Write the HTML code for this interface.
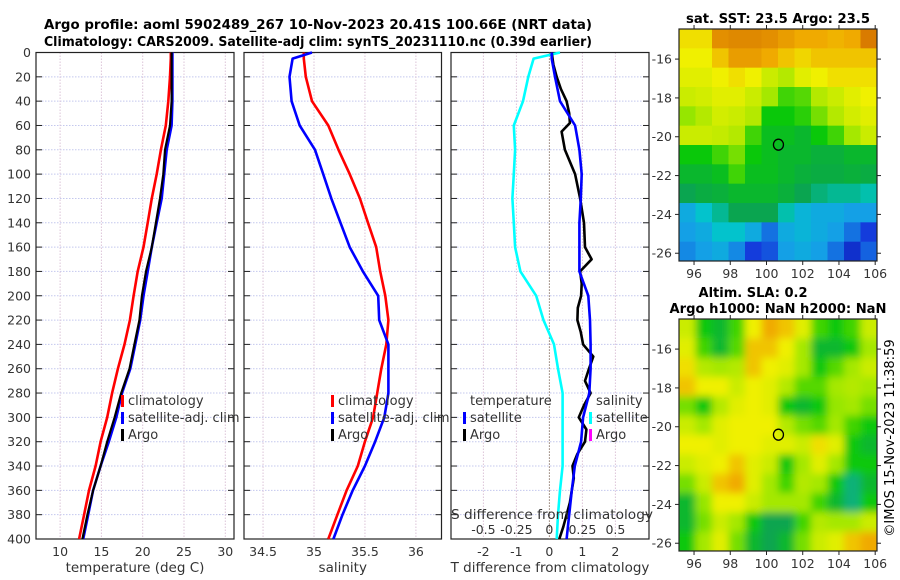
<!DOCTYPE html>
<html><head><meta charset="utf-8"><style>
html,body{margin:0;padding:0;background:#fff;}
svg{display:block;font-family:"DejaVu Sans","Liberation Sans",sans-serif;}
</style></head><body>
<svg id="fig" width="900" height="580" viewBox="0 0 900 580" xmlns="http://www.w3.org/2000/svg">
<text x="318" y="29" text-anchor="middle" font-size="13.5" font-weight="bold" textLength="548" lengthAdjust="spacingAndGlyphs">Argo profile: aoml 5902489_267 10-Nov-2023 20.41S 100.66E (NRT data)</text>
<text x="318" y="46" text-anchor="middle" font-size="13.5" font-weight="bold" textLength="548" lengthAdjust="spacingAndGlyphs">Climatology: CARS2009. Satellite-adj clim: synTS_20231110.nc (0.39d earlier)</text>
<text x="778" y="23" text-anchor="middle" font-size="13.5" font-weight="bold" textLength="184" lengthAdjust="spacingAndGlyphs">sat. SST: 23.5 Argo: 23.5</text>
<text x="753" y="297" text-anchor="middle" font-size="13.5" font-weight="bold" textLength="109" lengthAdjust="spacingAndGlyphs">Altim. SLA: 0.2</text>
<text x="778" y="313" text-anchor="middle" font-size="13.5" font-weight="bold" textLength="217" lengthAdjust="spacingAndGlyphs">Argo h1000: NaN h2000: NaN</text>
<text transform="translate(894,438) rotate(-90)" text-anchor="middle" font-size="13">©IMOS 15-Nov-2023 11:38:59</text>
</svg>
<script>
// ---------- data ----------
const depths = [0,5,20,40,60,80,100,120,140,160,180,200,220,240,260,280,300,320,340,360,380,400];
const tempClim = [23.4,23.4,23.3,23.1,22.8,22.2,21.7,21.1,20.6,20.1,19.4,18.9,18.45,17.8,17.0,16.3,15.7,14.9,14.3,13.5,12.9,12.3];
const tempSat = [23.6,23.6,23.6,23.6,23.5,22.9,22.6,22.3,21.7,21.1,20.6,20.1,19.7,19.1,18.5,17.5,16.8,15.9,14.9,14.0,13.4,12.8];
const tempArgo = [23.5,23.5,23.5,23.5,23.3,22.7,22.5,22.1,21.6,21.1,20.4,19.9,19.6,19.0,18.4,17.4,16.6,15.7,14.9,14.0,13.3,12.7];
const salClim = [34.9,34.9,34.92,34.98,35.14,35.24,35.35,35.45,35.53,35.61,35.65,35.70,35.73,35.71,35.66,35.62,35.58,35.50,35.43,35.32,35.23,35.14];
const salSat = [34.98,34.79,34.76,34.78,34.86,35.01,35.09,35.17,35.26,35.35,35.48,35.63,35.64,35.73,35.73,35.73,35.69,35.60,35.50,35.38,35.28,35.19];
const tDiffSat = [0.07,0.07,0.17,0.32,0.78,0.91,0.98,0.95,0.91,0.91,0.91,1.18,1.23,1.25,1.25,1.21,1.02,0.96,0.77,0.68,0.60,0.52];
const sDiffSat = [0.08,-0.12,-0.16,-0.2,-0.27,-0.26,-0.27,-0.28,-0.27,-0.26,-0.22,-0.1,-0.045,0.035,0.065,0.1,0.1,0.1,0.1,0.08,0.065,0.055];
const argoDiffDepths = [0,10,20,30,40,50,58,65,80,100,120,140,160,170,180,190,200,210,220,230,240,250,260,270,280,290,300,310,320,330,340,350,360,370,380,390,400];
const tDiffArgo = [0.07,0.12,0.22,0.35,0.52,0.6,0.62,0.37,0.47,0.78,0.93,1.05,1.08,1.28,0.93,0.98,0.96,0.86,0.85,0.95,1.02,1.33,1.2,1.08,1.25,1.05,0.89,1.12,1.08,0.85,0.7,0.74,0.68,0.62,0.52,0.42,0.30];
const depthTicks = [0,20,40,60,80,100,120,140,160,180,200,220,240,260,280,300,320,340,360,380,400];
const tempTicks = [10,15,20,25,30];
const salTicks = [34.5,35,35.5,36];
const salTickLabels = ["34.5","35","35.5","36"];
const tdTicks = [-2,-1,0,1,2];
const sdTicks = [-0.5,-0.25,0,0.25,0.5];
const sdTickLabels = ["-0.5","-0.25","0","0.25","0.5"];
const lonTicks = [96,98,100,102,104,106];
const latTicks = [-16,-18,-20,-22,-24,-26];
const argoLon = 100.66, argoLat = -20.41;
const sstGrid = [
[0.82,0.82,0.92,0.93,0.93,0.92,0.9,0.88,0.88,0.87,0.88,0.95],
[0.8,0.8,0.85,0.9,0.9,0.88,0.85,0.83,0.85,0.85,0.85,0.85],
[0.78,0.78,0.8,0.82,0.8,0.75,0.72,0.78,0.8,0.82,0.82,0.82],
[0.75,0.76,0.78,0.78,0.75,0.7,0.6,0.62,0.72,0.75,0.78,0.8],
[0.68,0.72,0.76,0.75,0.72,0.55,0.55,0.58,0.65,0.72,0.76,0.78],
[0.75,0.75,0.74,0.72,0.6,0.52,0.52,0.5,0.55,0.6,0.7,0.75],
[0.55,0.55,0.6,0.65,0.55,0.52,0.5,0.5,0.48,0.48,0.5,0.5],
[0.5,0.5,0.52,0.6,0.52,0.52,0.5,0.48,0.47,0.47,0.48,0.47],
[0.45,0.47,0.48,0.5,0.5,0.5,0.48,0.45,0.42,0.4,0.4,0.38],
[0.3,0.35,0.4,0.45,0.45,0.45,0.38,0.32,0.3,0.3,0.28,0.28],
[0.28,0.3,0.35,0.35,0.3,0.22,0.3,0.32,0.3,0.28,0.22,0.15],
[0.25,0.28,0.3,0.25,0.15,0.18,0.28,0.3,0.28,0.22,0.12,0.2]];
const slaGrid = [
[0.75,0.55,0.5,0.6,0.8,0.88,0.85,0.78,0.6,0.55,0.6,0.75],
[0.78,0.6,0.5,0.62,0.85,0.85,0.8,0.7,0.5,0.5,0.55,0.7],
[0.82,0.72,0.7,0.72,0.85,0.8,0.78,0.7,0.55,0.62,0.7,0.75],
[0.85,0.8,0.8,0.75,0.8,0.78,0.72,0.62,0.62,0.7,0.72,0.7],
[0.65,0.55,0.72,0.78,0.8,0.78,0.55,0.5,0.55,0.68,0.7,0.65],
[0.75,0.7,0.78,0.8,0.8,0.8,0.72,0.65,0.62,0.7,0.6,0.55],
[0.8,0.8,0.78,0.8,0.8,0.78,0.78,0.75,0.82,0.78,0.55,0.5],
[0.75,0.78,0.8,0.85,0.78,0.75,0.55,0.7,0.78,0.7,0.55,0.55],
[0.65,0.75,0.85,0.88,0.78,0.7,0.6,0.72,0.7,0.55,0.42,0.5],
[0.5,0.68,0.8,0.8,0.75,0.7,0.7,0.7,0.6,0.5,0.42,0.55],
[0.5,0.65,0.75,0.7,0.55,0.45,0.45,0.6,0.72,0.7,0.7,0.75],
[0.55,0.7,0.78,0.65,0.5,0.45,0.5,0.65,0.75,0.78,0.85,0.88]];

// ---------- helpers ----------
const NS = "http://www.w3.org/2000/svg";
const svg = document.getElementById('fig');
function mk(tag, attrs, parent){ const e=document.createElementNS(NS,tag); for(const k in attrs) e.setAttribute(k,attrs[k]); (parent||svg).appendChild(e); return e; }
const yTop=52.5, yBot=539;
const yD = d => yTop + d*(yBot-yTop)/400;
const xT = t => 142.7 + (t-20)*8.26;
const xS = s => 314 + (s-35)*101.9;
const xTD = t => 549.4 + t*33;
const xSD = s => 549.4 + s*132;

function panel(name, x0, x1, xTicks, xLab, xf, title){
  const g = mk('g',{});
  
  
  depthTicks.forEach(d=>{ const l=mk('line',{x1:x0,x2:x1,y1:yD(d),y2:yD(d),stroke:'#c4c8ee','stroke-width':1,'stroke-dasharray':'1.5,1.5'},g);
     
    mk('line',{x1:x0,x2:x0+6,y1:yD(d),y2:yD(d),stroke:'#222'},g); mk('line',{x1:x1-6,x2:x1,y1:yD(d),y2:yD(d),stroke:'#222'},g); });
  xTicks.forEach((v,i)=>{ const x=xf(v); const l=mk('line',{x1:x,x2:x,y1:yTop,y2:yBot,stroke:'#dcc4d8','stroke-width':1,'stroke-dasharray':'1.5,1.5'},g);
     
    const t=mk('text',{x:x,y:556,'text-anchor':'middle','font-size':12.5,fill:'#333'},g); t.textContent=xLab[i];
      });
  const r=mk('rect',{x:x0,y:yTop,width:x1-x0,height:yBot-yTop,fill:'none',stroke:'#222','stroke-width':1.2},g);
   
  const tt=mk('text',{x:(x0+x1)/2,y:572,'text-anchor':'middle','font-size':13.5,fill:'#333'},g); tt.textContent=title;
   
  return g;
}
function line(xs, ds, xf, color, name, w){
  const pts = xs.map((v,i)=>xf(v).toFixed(1)+','+yD(ds[i]).toFixed(1)).join(' ');
  const p=mk('polyline',{points:pts,fill:'none',stroke:color,'stroke-width':w||2.6,'stroke-linejoin':'round'});
  
  
}
function legend(x, y, entries){
  entries.forEach((e,i)=>{ const yy=y+i*17;
    if(e.c){ const m=mk('rect',{x:x,y:yy-10,width:3,height:12,fill:e.c});   }
    const t=mk('text',{x:x+7,y:yy,'font-size':13,fill:'#333'}); t.textContent=e.t;
      });
}

// depth tick labels
depthTicks.forEach(d=>{ const t=mk('text',{x:31,y:yD(d)+4.5,'text-anchor':'end','font-size':12.5,fill:'#333'}); t.textContent=d;
    });

panel('temperature-panel',36,234,tempTicks,tempTicks.map(String),xT,'temperature (deg C)');
panel('salinity-panel',244,441.5,salTicks,salTickLabels,xS,'salinity');
panel('difference-panel',451,649,tdTicks,tdTicks.map(String),xTD,'T difference from climatology');
// zero line
const z=mk('line',{x1:xTD(0),x2:xTD(0),y1:yTop,y2:yBot,stroke:'#6a5a3a','stroke-dasharray':'1,2','stroke-width':1});
 

line(tempClim,depths,xT,'#ff0000','temp-climatology-line');
line(tempSat,depths,xT,'#0000ff','temp-satellite-line');
line(tempArgo,depths,xT,'#000000','temp-argo-line',2.2);
line(salClim,depths,xS,'#ff0000','sal-climatology-line');
line(salSat,depths,xS,'#0000ff','sal-satellite-line');
line(sDiffSat,depths,xSD,'#00ffff','sdiff-satellite-line');
line(tDiffArgo,argoDiffDepths,xTD,'#000000','tdiff-argo-line',2.6);
line(tDiffSat,depths,xTD,'#0000ff','tdiff-satellite-line');

legend(121,405,[{c:'#ff0000',t:'climatology'},{c:'#0000ff',t:'satellite-adj. clim'},{c:'#000000',t:'Argo'}]);
legend(331,405,[{c:'#ff0000',t:'climatology'},{c:'#0000ff',t:'satellite-adj. clim'},{c:'#000000',t:'Argo'}]);
legend(463,405,[{c:null,t:'temperature'},{c:'#0000ff',t:'satellite'},{c:'#000000',t:'Argo'}]);
legend(589,405,[{c:null,t:'salinity'},{c:'#00ffff',t:'satellite'},{c:'#ff00ff',t:'Argo'}]);
// S axis inside panel
const st=mk('text',{x:451,y:519,'font-size':13.5,fill:'#333',textLength:202,lengthAdjust:'spacingAndGlyphs'}); st.textContent='S difference from climatology';
 
sdTicks.forEach((v,i)=>{ const t=mk('text',{x:xSD(v),y:534,'text-anchor':'middle','font-size':12.5,fill:'#333'}); t.textContent=sdTickLabels[i];
    });

// ---------- maps ----------
const stops=[[0,[0,0,140]],[0.15,[20,60,220]],[0.28,[20,160,230]],[0.36,[0,200,200]],[0.45,[10,165,80]],[0.55,[10,200,10]],[0.68,[150,230,0]],[0.8,[240,240,0]],[0.88,[240,170,0]],[1,[200,90,0]]];
function cmap(v){ for(let i=1;i<stops.length;i++){ if(v<=stops[i][0]){ const a=stops[i-1],b=stops[i],f=(v-a[0])/(b[0]-a[0]);
  return 'rgb('+a[1].map((c,k)=>Math.round(c+(b[1][k]-c)*f)).join(',')+')'; } } return 'rgb(200,90,0)'; }
const defs=mk('defs',{});
const flt=mk('filter',{id:'blur',x:'-5%',y:'-5%',width:'110%',height:'110%'},defs);
mk('feGaussianBlur',{stdDeviation:4},flt);
function map(name, grid, top, bottom, blur){
  const L=679,R=877, lon0=95.17, lon1=106.1, lat0=-14.45, lat1=-26.4;
  const xL = lo => L + (lo-lon0)*(R-L)/(lon1-lon0);
  const yL = la => top + (la-lat0)*(bottom-top)/(lat1-lat0);
  const cp=mk('clipPath',{id:'cp'+name},defs); mk('rect',{x:L,y:top,width:R-L,height:bottom-top},cp);
  const outer=mk('g',{'clip-path':'url(#cp'+name+')'});
  
  
  const g=mk('g',blur?{filter:'url(#blur)'}:{},outer);
  const nr=grid.length, nc=grid[0].length, cw=(R-L)/nc, ch=(bottom-top)/nr;
  grid.forEach((row,r)=>row.forEach((v,c)=>{ const e=mk('rect',{x:L+c*cw-(blur&&c==0?8:0),y:top+r*ch-(blur&&r==0?8:0),width:cw+(blur&&(c==0||c==nc-1)?8:0.6),height:ch+(blur&&(r==0||r==nr-1)?8:0.6),fill:cmap(v)},g);
      }));
  const fr=mk('rect',{x:L,y:top,width:R-L,height:bottom-top,fill:'none',stroke:'#222','stroke-width':1.2});
   
  lonTicks.forEach(lo=>{ const x=xL(lo); mk('line',{x1:x,x2:x,y1:bottom,y2:bottom+4,stroke:'#222'}); mk('line',{x1:x,x2:x,y1:top,y2:top-4,stroke:'#222'});
    const t=mk('text',{x:x,y:bottom+17,'text-anchor':'middle','font-size':12.5,fill:'#333'}); t.textContent=lo;
      });
  latTicks.forEach(la=>{ const y=yL(la); mk('line',{x1:L-4,x2:L,y1:y,y2:y,stroke:'#222'}); mk('line',{x1:R,x2:R+4,y1:y,y2:y,stroke:'#222'});
    const t=mk('text',{x:672,y:y+4.5,'text-anchor':'end','font-size':12.5,fill:'#333'}); t.textContent=la;
      });
  const c=mk('ellipse',{cx:xL(argoLon),cy:yL(argoLat),rx:5,ry:5.5,fill:'none',stroke:'#000','stroke-width':1.3});
   
}
map('sst-map', sstGrid, 29, 261, false);
map('sla-map', slaGrid, 319, 551, true);
</script>
</body></html>
